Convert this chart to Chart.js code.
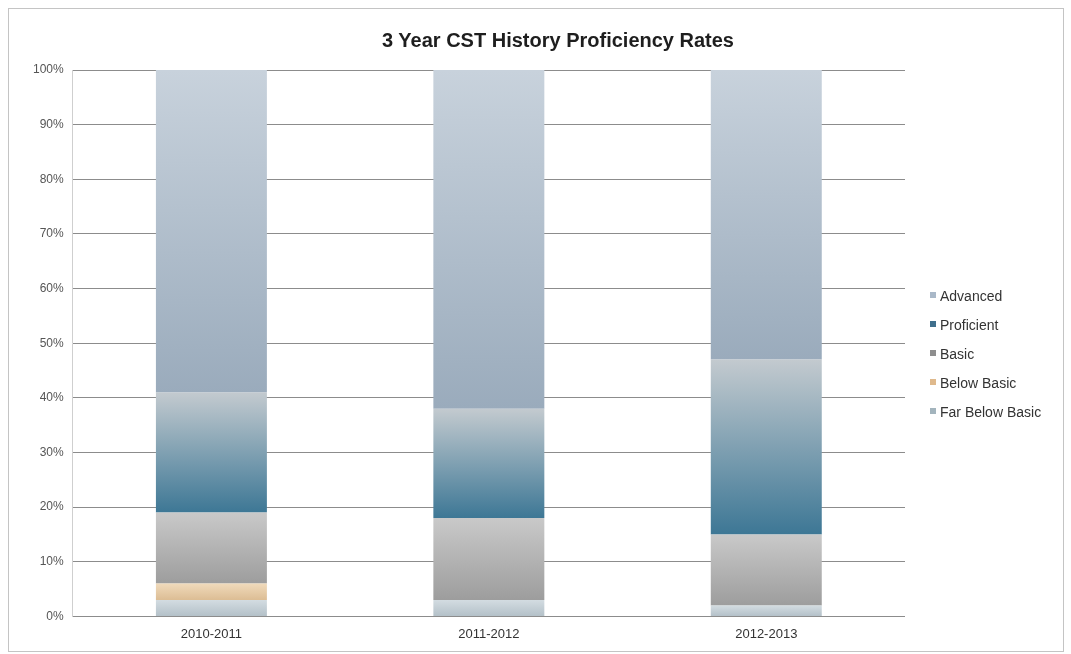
<!DOCTYPE html>
<html>
<head>
<meta charset="utf-8">
<title>3 Year CST History Proficiency Rates</title>
<script src="https://cdn.jsdelivr.net/npm/chart.js@4.4.1/dist/chart.umd.min.js"></script>
<style>
    html, body { margin: 0; padding: 0; background: #fff; }
    #wrap { position: relative; width: 1071px; height: 654px; font-family: "Liberation Sans", Arial, sans-serif; }
    #frame { position: absolute; left: 8px; top: 8px; width: 1054px; height: 642px; border: 1px solid #c4c4c4; pointer-events: none; }
    #chartTitle { position: absolute; left: 0; width: 1116px; top: 29px; text-align: center; font-weight: bold; font-size: 20px; color: #1e1e1e; }
    #legend { position: absolute; left: 930px; top: 286px; list-style: none; margin: 0; padding: 0; font-size: 14px; color: #333; }
    #legend li { height: 29px; line-height: 20px; white-space: nowrap; }
    #legend span { display: inline-block; width: 6px; height: 6px; margin-right: 4px; vertical-align: 3px; }
</style>
</head>
<body>
<div id="wrap">
    <canvas id="cstChart" width="1071" height="654"></canvas>
    <div id="chartTitle">3 Year CST History Proficiency Rates</div>
    <ul id="legend"></ul>
    <div id="frame"></div>
</div>
<script>
// Dati (percentuali, dal basso verso l'alto)
const years = ['2010-2011', '2011-2012', '2012-2013'];
const farBelowBasic = [3, 3, 2];
const belowBasic = [3, 0, 0];
const basic = [13, 15, 13];
const proficient = [22, 20, 32];
const advanced = [59, 62, 53];
const yTicks = [0, 10, 20, 30, 40, 50, 60, 70, 80, 90, 100];

const seriesNames = ['Far Below Basic', 'Below Basic', 'Basic', 'Proficient', 'Advanced'];
const seriesValues = [farBelowBasic, belowBasic, basic, proficient, advanced];
// colori sfumati (alto, basso) e colore del quadratino in legenda
const seriesColors = [
    ['#d3dce1', '#b3c0c8', '#a3b4bd'],
    ['#f0dabb', '#dcbd94', '#dfb98c'],
    ['#c9c9c9', '#9d9d9d', '#8e8e8e'],
    ['#c3cacf', '#3d7795', '#3f6f8c'],
    ['#c8d2dc', '#9aabbc', '#a9b8c8']
];

// Gradiente verticale per ogni segmento della pila
const segmentGradient = (context) => {
    const ds = context.datasetIndex;
    const colors = seriesColors[ds];
    const chart = context.chart;
    const i = context.dataIndex;
    if (!chart.chartArea || i === undefined || !chart.scales.y) return colors[1];
    let start = 0;
    for (let k = 0; k < ds; k++) start += seriesValues[k][i];
    const end = start + seriesValues[ds][i];
    const y = chart.scales.y;
    const yTop = y.getPixelForValue(end);
    const yBottom = y.getPixelForValue(start);
    if (yBottom - yTop < 1) return colors[1];
    const g = chart.ctx.createLinearGradient(0, yTop, 0, yBottom);
    g.addColorStop(0, colors[0]);
    g.addColorStop(1, colors[1]);
    return g;
};

const ctx = document.getElementById('cstChart').getContext('2d');
const cstChart = new Chart(ctx, {
    type: 'bar',
    data: {
        labels: years,
        datasets: seriesNames.map((name, idx) => ({
            label: name,
            data: seriesValues[idx],
            backgroundColor: segmentGradient,
            borderWidth: 0,
            barPercentage: 0.4,
            categoryPercentage: 1
        }))
    },
    options: {
        responsive: false,
        animation: false,
        layout: {
            padding: { left: 24, right: 166, top: 70, bottom: 10 }
        },
        plugins: {
            legend: { display: false }, // legenda HTML a destra
            title: { display: false },
            tooltip: { enabled: false }
        },
        scales: {
            x: {
                stacked: true,
                grid: { display: false },
                border: { display: false },
                ticks: {
                    padding: 2,
                    color: '#333',
                    font: { family: '"Liberation Sans", Arial, sans-serif', size: 13 }
                }
            },
            y: {
                stacked: true,
                min: 0,
                max: 100,
                afterBuildTicks: (scale) => {
                    scale.ticks = yTicks.map(v => ({ value: v }));
                },
                grid: { color: '#8c8c8c', lineWidth: 1, drawTicks: false },
                border: { display: true, color: '#cfcfcf' },
                ticks: {
                    padding: 9,
                    color: '#555',
                    font: { family: '"Liberation Sans", Arial, sans-serif', size: 12 },
                    callback: (v) => v + '%'
                }
            }
        }
    }
});

// Legenda: dall'alto (Advanced) verso il basso
const legendEl = document.getElementById('legend');
for (let k = seriesNames.length - 1; k >= 0; k--) {
    const li = document.createElement('li');
    const box = document.createElement('span');
    box.style.background = seriesColors[k][2];
    li.appendChild(box);
    li.appendChild(document.createTextNode(seriesNames[k]));
    legendEl.appendChild(li);
}
</script>
</body>
</html>
